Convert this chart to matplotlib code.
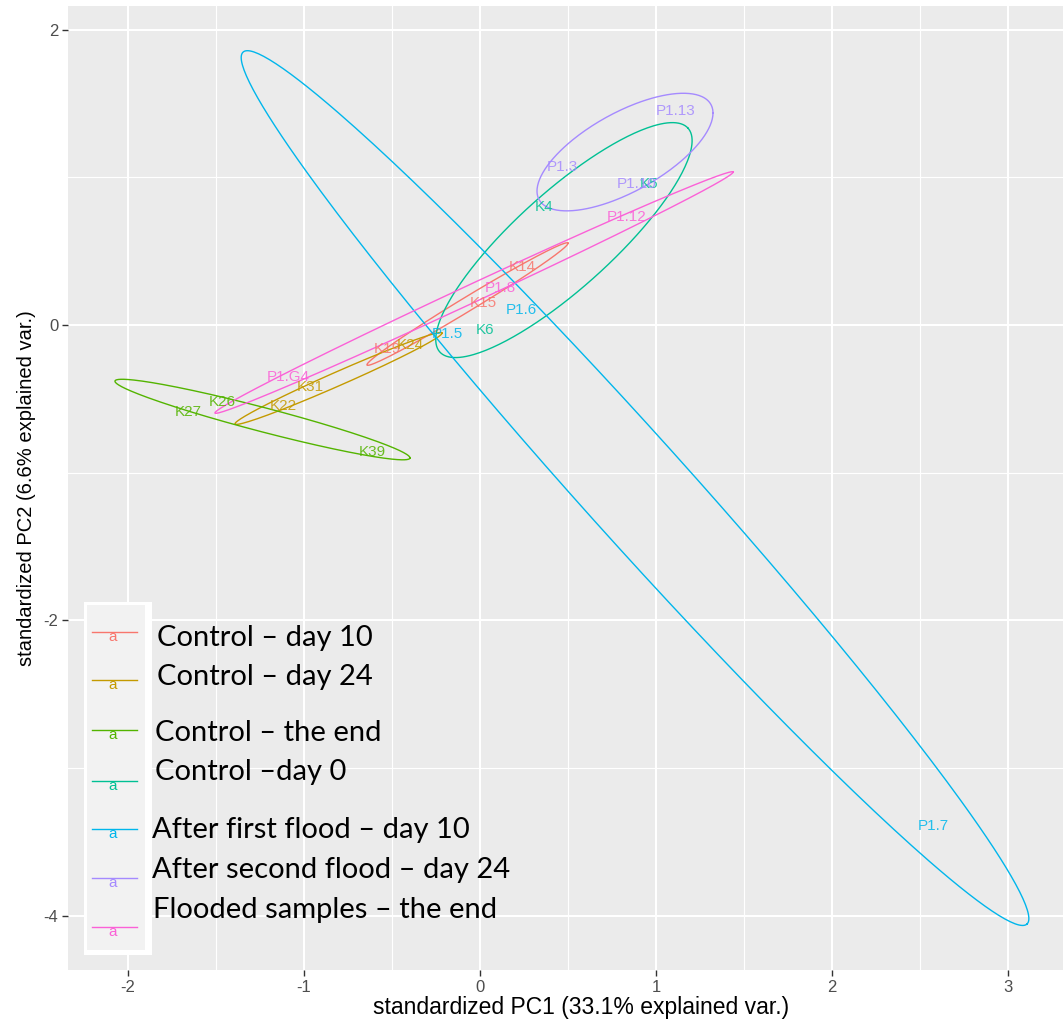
import numpy as np
import matplotlib
matplotlib.use("Agg")
from matplotlib import pyplot as plt
from matplotlib.patches import Rectangle

W, H = 1063, 1024

groups = ["Control – day 10", "Control – day 24", "Control – the end", "Control –day 0",
          "After first flood – day 10", "After second flood – day 24", "Flooded samples – the end"]
colors = ["#F8766D", "#C49A00", "#53B400", "#00C094", "#00B6EB", "#A58AFF", "#FB61D7"]

# ellipse per group: centre, major semi-axis vector, conjugate semi-axis vector (PC units)
ell_cx = [-0.071, -0.804, -1.236, 0.477, 0.881, 0.824, -0.034]
ell_cy = [0.142, -0.362, -0.640, 0.575, -1.104, 1.171, 0.220]
ell_ax = [0.571, 0.588, 0.838, 0.705, 2.227, 0.500, 1.472]
ell_ay = [0.413, 0.308, -0.261, 0.758, -2.952, 0.264, 0.816]
ell_bx = [0.021, 0.016, -0.017, -0.183, 0.220, 0.000, 0.022]
ell_by = [-0.040, -0.043, -0.079, 0.241, 0.236, 0.298, -0.055]

# sample scores and labels
sample_names = ["K14", "K15", "K19",
                "K24", "K31", "K22",
                "K27", "K26", "K39",
                "K4", "K6", "K5",
                "P1.5", "P1.6", "P1.7",
                "P1.3", "P1.13", "P1.10",
                "P1.12", "P1.8", "P1.G4"]
sample_group = [0, 0, 0, 1, 1, 1, 2, 2, 2, 3, 3, 3, 4, 4, 4, 5, 5, 5, 6, 6, 6]
pc1 = [0.239, 0.017, -0.528, -0.398, -0.966, -1.119, -1.659, -1.466, -0.614,
       0.364, 0.028, 0.960, -0.188, 0.233, 2.574, 0.466, 1.114, 0.892,
       0.835, 0.114, -1.091]
pc2 = [0.393, 0.149, -0.163, -0.135, -0.420, -0.548, -0.589, -0.521, -0.860,
       0.799, -0.034, 0.955, -0.061, 0.102, -3.392, 1.070, 1.449, 0.955,
       0.731, 0.250, -0.352]

xticks = [-2, -1, 0, 1, 2, 3]
yticks = [2, 0, -2, -4]

fig = plt.figure(figsize=(W / 100, H / 100), dpi=100)
ax = fig.add_axes([68 / W, 1 - 970 / H, (1094 - 68) / W, (970 - 6) / H])
ax.set_facecolor("#EBEBEB")
ax.set_xlim(-2.341, 3.489)
ax.set_ylim(-4.367, 2.160)

# grid
for x in np.arange(-2.5, 3.51, 0.5):
    ax.axvline(x, color="white", lw=1.5 if x in xticks else 0.8, zorder=0)
for y in np.arange(-4, 2.01, 1.0):
    ax.axhline(y, color="white", lw=1.5 if y in yticks else 0.8, zorder=0)
for s in ax.spines.values():
    s.set_visible(False)

t = np.linspace(0, 2 * np.pi, 300)
for i, c in enumerate(colors):
    ex = ell_cx[i] + ell_ax[i] * np.cos(t) + ell_bx[i] * np.sin(t)
    ey = ell_cy[i] + ell_ay[i] * np.cos(t) + ell_by[i] * np.sin(t)
    ax.plot(ex, ey, color=c, lw=1.0, zorder=2)

for name, g, x, y in zip(sample_names, sample_group, pc1, pc2):
    ax.text(x, y, name, color=colors[g], fontsize=11, family="Liberation Sans",
            ha="center", va="center", alpha=0.85, zorder=3)

ax.set_xticks(xticks)
ax.set_yticks(yticks)
ax.set_xticklabels([str(v) for v in xticks])
ax.set_yticklabels([str(v) for v in yticks])
ax.tick_params(length=4, width=1, color="#333333", labelcolor="#4D4D4D", labelsize=12, pad=3)
for lab in ax.get_xticklabels() + ax.get_yticklabels():
    lab.set_family("Liberation Sans")
ax.set_xlabel("standardized PC1 (33.1% explained var.)", fontsize=16.5, family="Liberation Sans", labelpad=1)
ax.set_ylabel("standardized PC2 (6.6% explained var.)", fontsize=14.5, family="Liberation Sans", labelpad=5)

# legend: key column in a white box, labels beside it
def fx(px):
    return px / W

def fy(py):
    return 1 - py / H

fig.patches.append(Rectangle((fx(84), fy(955)), fx(152) - fx(84), fy(602) - fy(955),
                             transform=fig.transFigure, facecolor="white", edgecolor="none", zorder=5))
fig.patches.append(Rectangle((fx(87), fy(950)), fx(145) - fx(87), fy(605) - fy(950),
                             transform=fig.transFigure, facecolor="#F2F2F2", edgecolor="none", zorder=6))
key_y = [632, 680, 730, 781, 829, 878, 927]
text_x = [157, 157, 155, 155, 152, 152, 153]
text_y = [638, 677, 733, 772, 830, 870, 910]
for i, c in enumerate(colors):
    fig.add_artist(plt.Line2D([fx(92), fx(137)], [fy(key_y[i]), fy(key_y[i])],
                              transform=fig.transFigure, color=c, lw=1.0, zorder=7))
    fig.text(fx(113), fy(key_y[i] + 5), "a", color=c, fontsize=11, ha="center", va="center",
             family="Liberation Sans", zorder=8)
    fig.text(fx(text_x[i]), fy(text_y[i]), groups[i], color="black", fontsize=21,
             family=["Lato", "DejaVu Sans"], ha="left", va="center", zorder=8)

fig.savefig("out.png", dpi=100)
